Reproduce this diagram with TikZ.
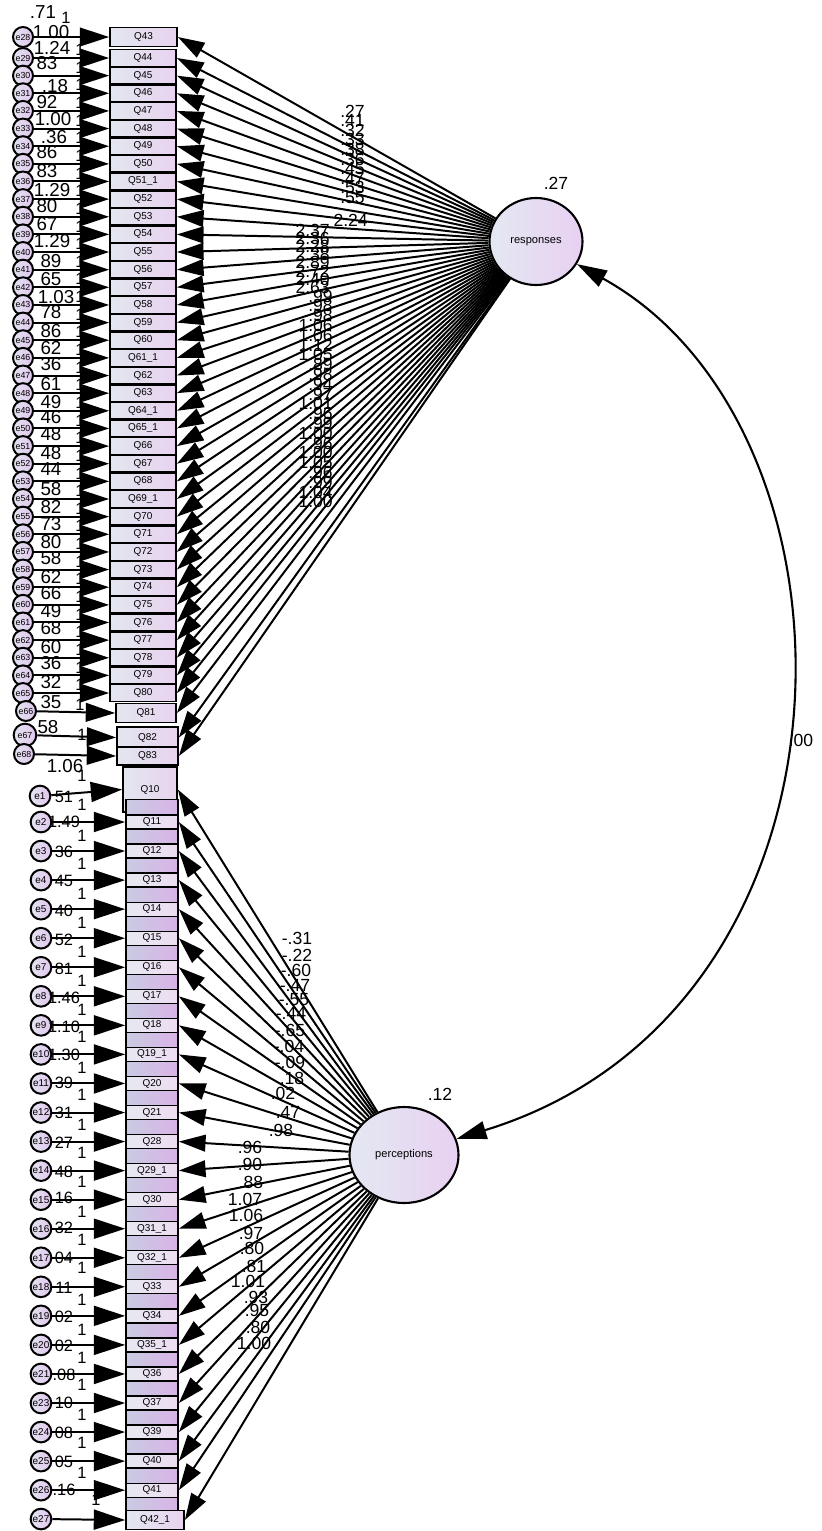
\documentclass[tikz,border=0pt]{standalone}
\usepackage{fontspec}
\setmainfont{Liberation Sans}
\usetikzlibrary{shapes.geometric,arrows.meta}
\definecolor{boxL}{HTML}{E3E6EF}
\definecolor{boxR}{HTML}{E8D3EF}
\definecolor{colL}{HTML}{C9CBE3}
\definecolor{colR}{HTML}{D9B3E6}
\definecolor{stripL}{HTML}{E8E8F1}
\definecolor{stripR}{HTML}{ECDCF1}
\definecolor{errL}{HTML}{E4E4F0}
\definecolor{errR}{HTML}{E0C6EE}
\definecolor{latL}{HTML}{E4E8F2}
\definecolor{latR}{HTML}{E8D0F2}
\begin{document}
\begin{tikzpicture}[x=0.03cm,y=-0.03cm,
  obs/.style={draw, line width=1.5pt, rectangle, inner sep=0pt, left color=boxL, right color=boxR, font=\fontsize{8.5}{9}\selectfont},
  bcol/.style={draw, line width=1.5pt, rectangle, inner sep=0pt, minimum width=1.56cm, minimum height=1.35cm, left color=colL, right color=colR, font=\fontsize{8.5}{9}\selectfont},
  strip/.style={draw, line width=1.1pt, rectangle, inner sep=0pt, minimum width=1.56cm, minimum height=0.42cm, left color=stripL, right color=stripR, font=\fontsize{8.5}{9}\selectfont},
  err/.style={circle, draw, line width=1.7pt, inner sep=0pt, minimum size=0.6cm, left color=errL, right color=errR, font=\fontsize{7.5}{8}\selectfont},
  lat/.style={ellipse, draw, line width=1.8pt, inner sep=0pt, left color=latL, right color=latR, font=\fontsize{9.5}{10}\selectfont},
  lpath/.style={line width=1.7pt, -{Triangle[length=0.8cm, width=0.5cm]}},
  epath/.style={line width=1.7pt, -{Triangle[length=0.88cm, width=0.56cm]}},
  bpath/.style={line width=1.7pt, -{Triangle[length=0.94cm, width=0.6cm]}},
  cpath/.style={line width=1.8pt, {Triangle[length=0.9cm, width=0.54cm]}-{Triangle[length=0.9cm, width=0.54cm]}},
  num/.style={inner sep=0pt, font=\fontsize{16}{16}\selectfont},
  numb/.style={inner sep=0pt, font=\fontsize{14}{14}\selectfont},
  numl/.style={inner sep=0pt, font=\fontsize{15}{15}\selectfont}
]
\useasboundingbox[fill=white] (0,0) rectangle (822,1531);

% ---------- bottom block (perceptions indicators)
\node[bcol, minimum width=1.62cm, left color=boxL, right color=boxR] (b1) at (150,789.5) {Q10};
\foreach \i in {2,...,25}{
  \pgfmathsetmacro\yy{822+29.05*(\i-2)}
  \node[bcol] (b\i) at (152,\yy) {};
}
\foreach \lab [count=\i from 2] in {Q11,Q12,Q13,Q14,Q15,Q16,Q17,Q18,Q19\_1,Q20,Q21,Q28,Q29\_1,Q30,Q31\_1,Q32\_1,Q33,Q34,Q35\_1,Q36,Q37,Q39,Q40,Q41}{
  \pgfmathsetmacro\yy{822+29.05*(\i-2)}
  \node[strip] (s\i) at (152,\yy) {\lab};
}
\node[obs, minimum width=1.74cm, minimum height=0.57cm] (b26) at (155,1520) {Q42\_1};

% ---------- top block (responses indicators)
\node[obs, minimum width=2.01cm, minimum height=0.57cm] (t1) at (143.5,37) {Q43};
\foreach \lab [count=\i from 2] in {Q44,Q45,Q46,Q47,Q48,Q49,Q50,Q51\_1,Q52,Q53,Q54,Q55,Q56,Q57,Q58,Q59,Q60,Q61\_1,Q62,Q63,Q64\_1,Q65\_1,Q66,Q67,Q68,Q69\_1,Q70,Q71,Q72,Q73,Q74,Q75,Q76,Q77,Q78,Q79,Q80}{
  \pgfmathsetmacro\yy{58+17.64*(\i-2)}
  \node[obs, minimum width=1.98cm, minimum height=0.51cm] (t\i) at (143,\yy) {\lab};
}
\node[obs, minimum width=1.8cm, minimum height=0.57cm] (t39) at (146,713) {Q81};
\node[obs, minimum width=1.83cm, minimum height=0.63cm] (t40) at (147.5,737.5) {Q82};
\node[obs, minimum width=1.83cm, minimum height=0.54cm] (t41) at (147.5,756) {Q83};

% ---------- error terms top
\node[err] (et1) at (23,37) {e28};
\foreach \i in {2,...,38}{
  \pgfmathsetmacro\yy{58+17.64*(\i-2)}
  \pgfmathtruncatemacro\en{27+\i}
  \node[err] (et\i) at (23,\yy) {e\en};
}
\node[err] (et39) at (26,711) {e66};
\node[err, minimum height=0.68cm] (et40) at (25,735) {e67};
\node[err] (et41) at (24,754) {e68};

% ---------- error terms bottom
\node[err, minimum size=0.62cm, font=\fontsize{8.5}{9}\selectfont] (eb1) at (40,796) {e1};
\foreach \lab [count=\i from 2] in {2,3,4,5,6,7,8,9,10,11,12,13,14,15,16,17,18,19,20,21,23,24,25,26}{
  \pgfmathsetmacro\yy{822+29.05*(\i-2)}
  \node[err, minimum size=0.62cm, font=\fontsize{8.5}{9}\selectfont] (eb\i) at (41,\yy) {e\lab};
}
\node[err, minimum size=0.62cm, font=\fontsize{8.5}{9}\selectfont] (eb26) at (41,1519) {e27};

% ---------- latent variables
\node[lat, minimum width=2.79cm, minimum height=2.61cm] (resp) at (536,241.5) {responses};
\node[lat, minimum width=3.27cm, minimum height=2.88cm] (perc) at (404,1155) {perceptions};

% ---------- fixed-weight labels (partly under the arrowheads)
\node[numb] (ot1) at (66,18) {1};
\foreach \i in {2,...,38}{
  \pgfmathsetmacro\yy{58+17.64*(\i-2)-8}
  \node[numb] (ot\i) at (80,\yy) {1};
}
\node[numb] (ot39) at (80,705) {1};
\node[numb] (ot40) at (82,735) {1};
\foreach \y [count=\i] in {776,805,836,864,894,923,952,981,1010,1037,1068,1095,1125,1153,1182,1212,1240,1268,1300,1330,1358,1385,1415,1443,1473}{
  \node[numb] (ob\i) at (82,\y) {1};
}
\node[numb] (ob26) at (96,1500) {1};

% ---------- paths
\foreach \i in {1,...,41}{
  \draw[epath] (et\i) -- (t\i.west);
  \draw[lpath] (resp) -- (t\i.east);
}
\foreach \i in {1,...,26}{
  \draw[bpath] (eb\i) -- (b\i.west);
  \draw[lpath] (perc) -- (b\i.east);
}
\draw[cpath] (resp) .. controls (877,430) and (877,1010) .. (perc);

% ---------- variances / labels
\node[numl] (vresp) at (556,183) {.27};
\node[numl] (vperc) at (440,1094) {.12};
\node[numl] (cov) at (801,740) {.00};

\foreach \t/\x/\y [count=\i] in {.71/43/12, 1.00/51/32, 1.24/52/48, 83/47/63, .18/55/86, 92/47/102, 1.00/53/119, .36/54/137, 86/47/152, 83/47/171, 1.29/52/190, 80/47/206, 67/47/224, 1.29/52/241, 89/51/261, 65/51/279, 1.03/56/297, 78/51/312, 86/51/331, 62/51/348, 36/51/364, 61/51/384, 49/51/402, 46/51/417, 48/51/434, 48/51/453, 44/51/469, 58/51/489, 82/51/507, 73/51/524, 80/51/542, 58/51/558, 62/51/577, 66/51/593, 49/51/611, 68/51/628, 60/51/647, 36/51/663, 32/51/682, 35/51/702, 58/48/727, 1.06/65/766}{
  \node[num] (vt\i) at (\x,\y) {\t};
}

\foreach \t/\y [count=\i] in {51/797, 1.49/822, 36/852, 45/881, 40/911, 52/940, 81/969, 1.46/998, 1.10/1027, 1.30/1055, 39/1083, 31/1113, 27/1143, 48/1172, 16/1198, 32/1228, 04/1258, 11/1288, 02/1317, 02/1346, .08/1375, 10/1403, 08/1433, 05/1462, .16/1490}{
  \node[numb] (vb\i) at (64,\y) {\t};
}

% responses loadings
\foreach \v [count=\i] in {.27,.41,.32,.33,.38,.36,.45,.47,.53,.55}{
  \pgfmathsetmacro\yy{111+9.6*(\i-1)}
  \node[numl, anchor=east] (lr\i) at (365,\yy) {\v};
}
\node[numl, anchor=east] (lr11) at (368,220) {2.24};
\foreach \v [count=\i from 12] in {2.37,2.36,2.28,2.38,2.89,2.72,2.40,2.63}{
  \pgfmathsetmacro\yy{230+8.2*(\i-12)}
  \node[numl, anchor=east] (lr\i) at (330,\yy) {\v};
}
\foreach \v [count=\i from 20] in {.99,.98,.98,1.06,1.06,1.12,1.05,.89,.98,.94,.97,1.01,.96,.99,1.00,.96,1.00,1.05,.96,.99,1.04,1.00}{
  \pgfmathsetmacro\yy{296+9.8*(\i-20)}
  \node[numl, anchor=east] (lr\i) at (333,\yy) {\v};
}

% perceptions loadings
\foreach \t/\x/\y [count=\i] in {-.31/297/938, -.22/297/955, -.60/296/970, -.47/295/985, -.55/294/1000, -.44/291/1013, -.65/290/1030, -.04/289/1046, -.09/290/1062, .18/292/1078, .02/283/1093, .47/288/1112, .98/281/1130, .96/250/1147, .90/250/1164, .88/251/1182, 1.07/245/1199, 1.06/246/1215, .97/251/1233, .80/252/1248, .81/254/1266, 1.01/248/1281, .93/256/1297, .95/257/1310, .80/258/1327, 1.00/254/1343}{
  \node[numl] (lp\i) at (\x,\y) {\t};
}
\end{tikzpicture}
\end{document}
